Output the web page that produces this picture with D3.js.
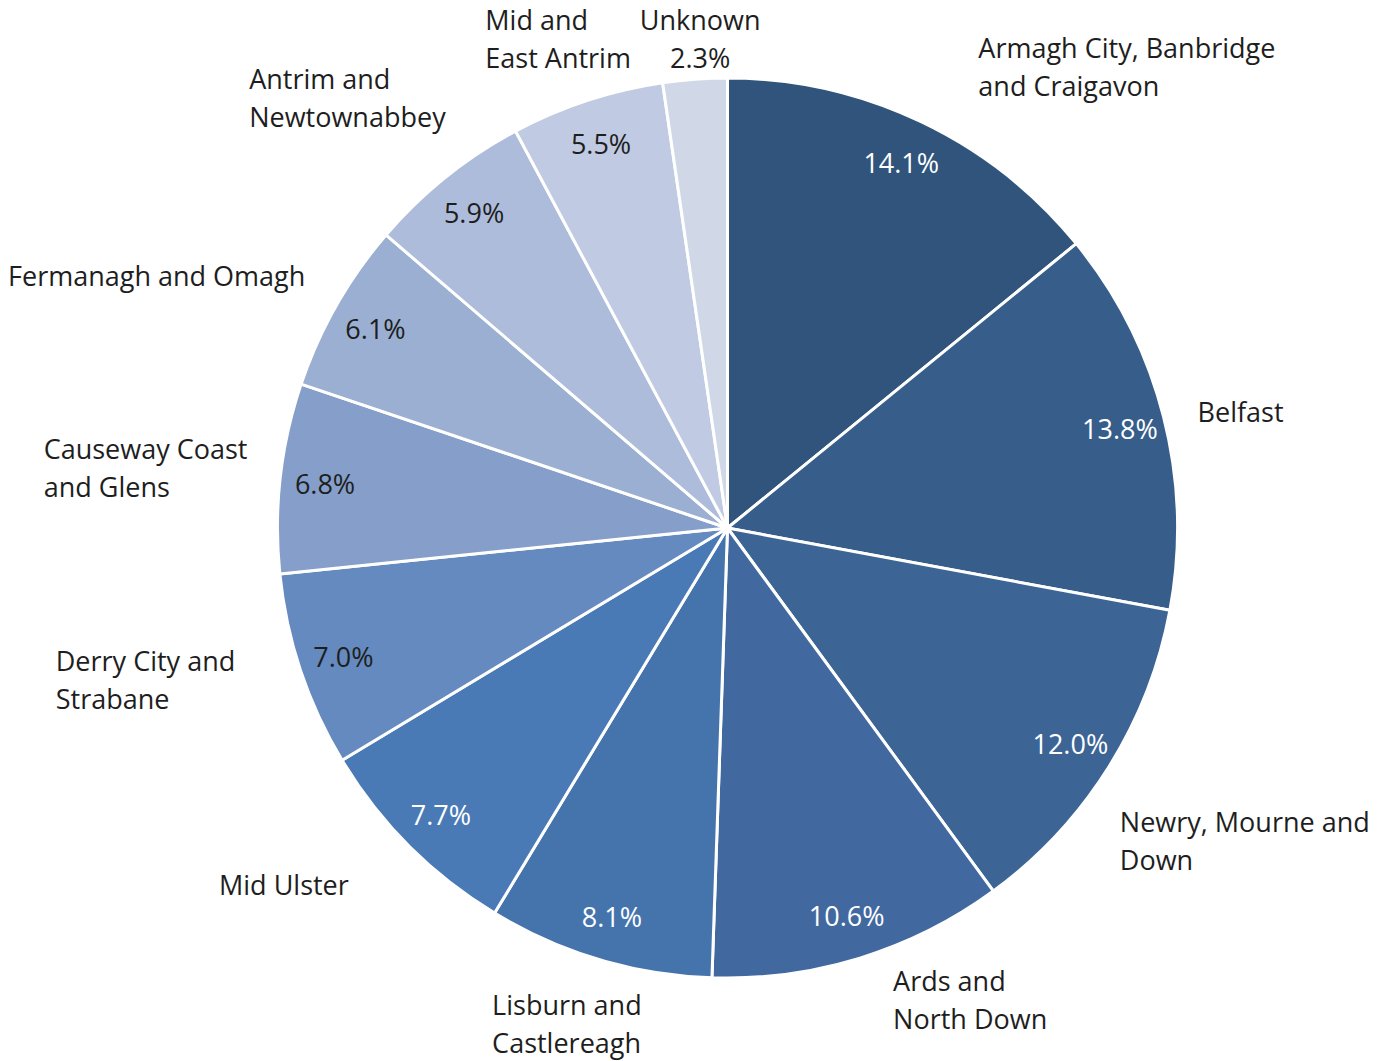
<!DOCTYPE html>
<html>
<head>
<meta charset="utf-8">
<script src="https://cdn.jsdelivr.net/npm/d3@7"></script>
<style>
  body { margin: 0; background: #fff; }
  text { font-family: "Open Sans", "Noto Sans", sans-serif; }
</style>
</head>
<body>
<div id="chart"></div>
<script>
// council areas, clockwise from 12 o'clock
var areas = [
  "Armagh City, Banbridge\nand Craigavon", "Belfast", "Newry, Mourne and\nDown",
  "Ards and\nNorth Down", "Lisburn and\nCastlereagh", "Mid Ulster",
  "Derry City and\nStrabane", "Causeway Coast\nand Glens", "Fermanagh and Omagh",
  "Antrim and\nNewtownabbey", "Mid and\nEast Antrim", "Unknown"
]
var shares = [14.1, 13.8, 12.0, 10.6, 8.1, 7.7, 7.0, 6.8, 6.1, 5.9, 5.5, 2.3]
var colours = ["#31547c", "#375d8a", "#3c6596", "#4169a0", "#4574ad", "#4a7ab6",
  "#658abf", "#859fca", "#9aafd2", "#aebcdb", "#c0cae2", "#d0d8e8"]

// small hand tweaks so the outside labels sit where Excel put them
var labelNudge = [[66, 10], [5, 13], [-14, 24], [56, -20], [19, 3], [-39, 4],
  [-37, -20], [-3, 3], [-5, 3], [19, -19], [26, 4], [16, 27]]

var width = 1378, height = 1061
var cx = 727.5, cy = 528, radius = 450

var svg = d3.select("#chart")
  .append("svg")
  .attr("width", width)
  .attr("height", height)

var g = svg.append("g")
  .attr("transform", "translate(" + cx + "," + cy + ")")

var data = shares.map(function (v, i) { return { name: areas[i], value: v, i: i } })

var pie = d3.pie()
  .sort(null)
  .value(function (d) { return d.value })

var arc = d3.arc().innerRadius(0).outerRadius(radius)
var valueArc = d3.arc().innerRadius(405).outerRadius(405)

var arcs = pie(data)

g.selectAll("path.slice")
  .data(arcs)
  .enter()
  .append("path")
  .attr("class", "slice")
  .attr("d", arc)
  .attr("fill", function (d) { return colours[d.data.i] })
  .attr("stroke", "#fff")
  .attr("stroke-width", 3)
  .attr("stroke-linejoin", "round")

// value labels inside the slices (Unknown carries its value outside)
g.selectAll("text.value")
  .data(arcs.filter(function (d) { return d.data.name != "Unknown" }))
  .enter()
  .append("text")
  .attr("class", "value")
  .attr("transform", function (d) { return "translate(" + valueArc.centroid(d) + ")" })
  .attr("text-anchor", "middle")
  .attr("dy", "0.4em")
  .attr("font-size", 27)
  .attr("fill", function (d) { return d.data.i < 6 ? "#ffffff" : "#1e1e1e" })
  .text(function (d) { return d.data.value.toFixed(1) + "%" })

// category labels outside
var lineH = 38
var clamp = function (v) { return Math.max(-1, Math.min(1, v)) }

arcs.forEach(function (d) {
  var lines = d.data.name.split("\n")
  if (d.data.name == "Unknown") lines.push(d.data.value.toFixed(1) + "%")
  var centred = d.data.name == "Unknown"

  var t = g.append("text")
    .attr("font-size", 27)
    .attr("fill", "#1e1e1e")
  lines.forEach(function (l, k) {
    t.append("tspan").attr("x", 0).attr("y", k * lineH).text(l)
  })
  var bb = t.node().getBBox()
  var w = bb.width, h = lines.length * lineH - 6

  var a = (d.startAngle + d.endAngle) / 2
  var s = Math.sin(a), c = Math.cos(a)
  var px = 480 * s, py = -480 * c
  var bx = px + w / 2 * clamp(2 * s) + labelNudge[d.data.i][0]
  var by = py - h / 2 * clamp(2 * c) + labelNudge[d.data.i][1]

  if (centred) {
    t.attr("text-anchor", "middle")
    t.attr("transform", "translate(" + bx + "," + (by - h / 2 + 24) + ")")
  } else {
    t.attr("transform", "translate(" + (bx - w / 2) + "," + (by - h / 2 + 24) + ")")
  }
})
</script>
</body>
</html>
